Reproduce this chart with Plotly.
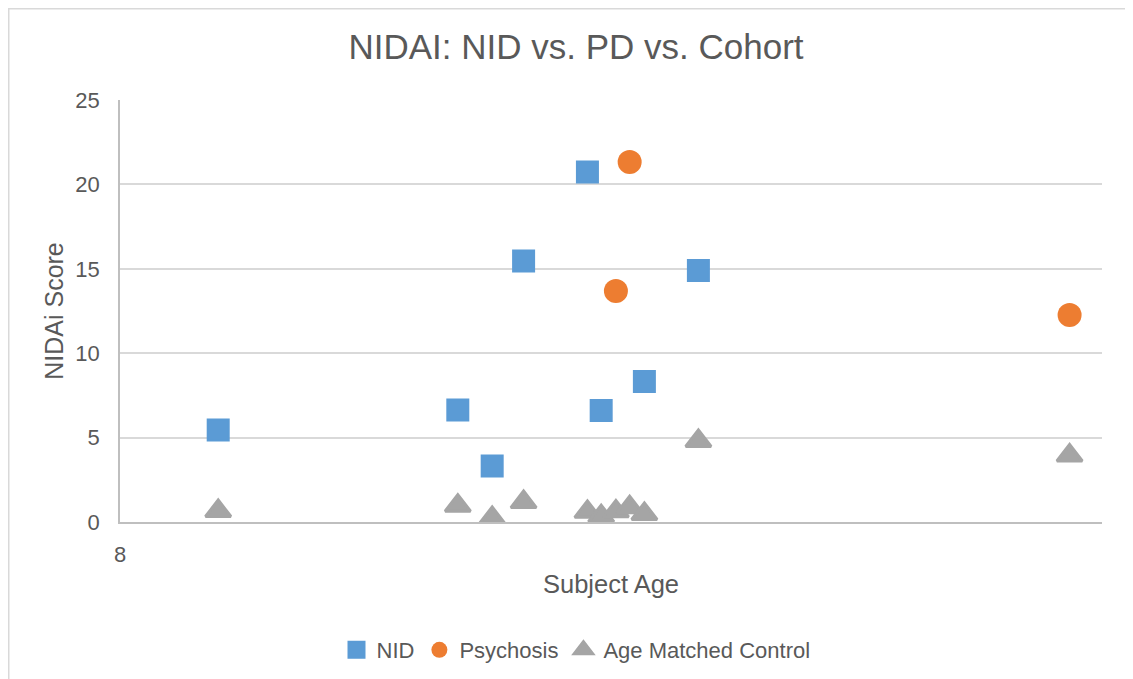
import plotly.graph_objects as go

# Data
nid_age = [9.0, 11.44, 11.79, 12.11, 12.76, 12.90, 13.34, 13.89]
nid_score = [5.45, 6.63, 3.32, 15.46, 20.73, 6.6, 8.33, 14.9]

psy_age = [13.05, 13.19, 17.67]
psy_score = [13.68, 21.33, 12.26]

ctrl_age = [9.0, 11.44, 11.79, 12.11, 12.76, 12.90, 13.05, 13.19, 13.34, 13.89, 17.67]
ctrl_score = [0.65, 0.97, 0.24, 1.18, 0.6, 0.35, 0.63, 0.88, 0.48, 4.8, 3.94]

x_ticks = [8]
y_ticks = [0, 5, 10, 15, 20, 25]

TXT = "#595959"
FONT = "Liberation Sans, Arial, sans-serif"

W, H = 1133, 679
OFF = 8  # page body offset
L, T, PW, PH = 120 - OFF, 100 - OFF, 982, 422

fig = go.Figure()
fig.add_trace(go.Scatter(
    x=nid_age, y=nid_score, mode="markers", name="NID",
    marker=dict(symbol="square", size=21, color="#5B9BD5",
                line=dict(color="#5B9BD5", width=2)),
))
fig.add_trace(go.Scatter(
    x=psy_age, y=psy_score, mode="markers", name="Psychosis",
    marker=dict(symbol="circle", size=24, color="#ED7D31",
                line=dict(width=0)),
))
fig.add_trace(go.Scatter(
    x=ctrl_age, y=ctrl_score, mode="markers", name="Age Matched Control",
    marker=dict(symbol="triangle-up", size=22, color="#A5A5A5",
                line=dict(color="#A5A5A5", width=3)),
))

fig.update_layout(
    width=W, height=H,
    margin=dict(l=L, r=W - L - PW, t=T, b=H - T - PH),
    paper_bgcolor="white", plot_bgcolor="white",
    font=dict(family=FONT, color=TXT, size=22),
    title=dict(text="NIDAI: NID vs. PD vs. Cohort", x=(576 - OFF) / W, xanchor="center",
               y=1 - (47 - OFF) / H, yanchor="middle", yref="container",
               font=dict(size=35, color=TXT, family=FONT)),
    showlegend=True,
    legend=dict(orientation="h", x=(576 - 120) / PW, xanchor="center",
                y=(522 - 650) / PH, yanchor="middle",
                font=dict(size=22, color=TXT, family=FONT),
                itemwidth=30, tracegroupgap=0),
    shapes=[dict(type="rect", xref="paper", yref="paper",
                 x0=(-L + 0.75) / PW, x1=(W + 40 - L) / PW,
                 y0=-(H + 40 - T - PH) / PH, y1=(T + PH - 0.75) / PH,
                 line=dict(color="#D9D9D9", width=1.5), layer="below")],
)

fig.update_xaxes(
    range=[8, 18], tickvals=x_ticks, ticktext=[str(v) for v in x_ticks],
    showgrid=False, zeroline=False,
    showline=True, linecolor="#BFBFBF", linewidth=1.5,
    ticks="", ticklabelstandoff=12,
    tickfont=dict(size=22, color=TXT),
    title=dict(text="Subject Age", font=dict(size=25.5, color=TXT), standoff=9),
)
fig.update_yaxes(
    range=[0, 25], tickvals=y_ticks,
    showgrid=True, gridcolor="#D9D9D9", gridwidth=1.5,
    zeroline=False,
    showline=True, linecolor="#BFBFBF", linewidth=1.5,
    ticks="", ticklabelstandoff=14,
    tickfont=dict(size=22, color=TXT),
    title=dict(text="NIDAi Score", font=dict(size=25, color=TXT), standoff=5),
)

fig.write_html("out.html")
